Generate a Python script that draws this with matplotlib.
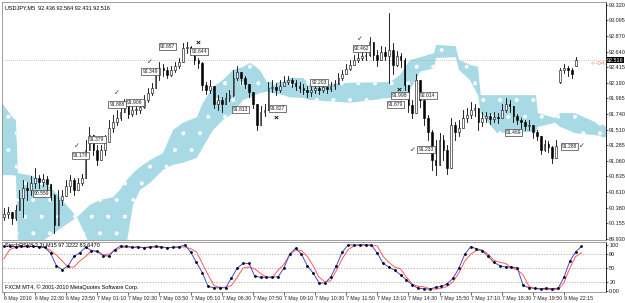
import numpy as np
import matplotlib
matplotlib.use("Agg")
import matplotlib.pyplot as plt
import matplotlib.transforms as mtransforms
from matplotlib.patches import Rectangle

# ----------------------------
# Price bars (one entry per 10 minutes), Friday session then Sunday open
# ----------------------------
close = [90.29, 90.32, 90.23, 90.345, 90.52, 90.66, 90.64, 90.74, 90.81, 90.75,
         90.79, 90.72, 90.56, 90.13, 90.49, 90.55, 90.69, 90.78, 90.64, 90.74,
         90.81, 91.22, 91.43, 91.22, 91.07, 91.22, 91.33, 91.53, 91.62, 91.68,
         91.77, 91.88, 91.74, 91.80, 91.80, 91.84, 91.94, 92.04, 92.11, 92.30,
         92.40, 92.38, 92.30, 92.38, 92.43, 92.49, 92.69, 92.71, 92.64, 92.52,
         92.48, 92.16, 92.09, 92.14, 91.88, 91.94, 91.88, 91.97, 92.01, 92.26,
         92.35, 92.26, 92.17, 92.06, 91.88, 91.58, 91.77, 91.80, 92.11, 92.13,
         92.09, 92.14, 92.20, 92.23, 92.19, 92.14, 92.11, 92.09, 92.06, 92.09,
         92.11, 92.09, 92.13, 92.10, 92.14, 92.17, 92.26, 92.32, 92.39, 92.45,
         92.52, 92.55, 92.58, 92.59, 92.78, 92.59, 92.52, 92.64, 92.58, 92.67,
         92.45, 92.58, 92.52, 92.16, 91.87, 91.75, 92.23, 91.94, 91.68, 91.48,
         91.07, 91.00, 91.36, 91.22, 90.95, 91.58, 91.48, 91.53, 91.68, 91.72,
         91.80, 91.82, 91.62, 91.68, 91.71, 91.66, 91.69, 91.68, 91.80, 91.88,
         91.85, 91.71, 91.65, 91.62, 91.56, 91.58, 91.48, 91.42, 91.22, 91.30,
         91.26, 91.10, 91.27, 92.38, 92.40, 92.38, 92.32, 92.516]
high = [90.38, 90.39, 90.32, 90.42, 90.635, 90.78, 90.75, 90.84, 90.95, 90.85,
        90.87, 90.84, 90.71, 90.58, 90.64, 90.64, 90.78, 90.85, 90.81, 90.81,
        90.87, 91.36, 91.55, 91.43, 91.29, 91.29, 91.43, 91.65, 91.72, 91.80,
        91.85, 91.95, 91.91, 91.87, 91.87, 91.91, 92.01, 92.11, 92.19, 92.40,
        92.49, 92.46, 92.42, 92.43, 92.49, 92.55, 92.77, 92.78, 92.72, 92.64,
        92.55, 92.49, 92.20, 92.23, 92.11, 92.01, 91.98, 92.04, 92.09, 92.38,
        92.43, 92.35, 92.29, 92.16, 92.01, 91.88, 91.85, 91.88, 92.20, 92.23,
        92.19, 92.23, 92.29, 92.29, 92.26, 92.23, 92.20, 92.17, 92.14, 92.17,
        92.19, 92.17, 92.19, 92.17, 92.20, 92.23, 92.33, 92.38, 92.46, 92.52,
        92.59, 92.62, 92.67, 92.68, 92.85, 92.74, 92.67, 92.72, 92.71, 93.20,
        92.77, 92.65, 92.62, 92.55, 92.11, 91.94, 92.32, 92.16, 91.87, 91.72,
        91.51, 91.36, 91.46, 91.43, 91.29, 91.68, 91.62, 91.65, 91.80, 91.82,
        91.91, 91.88, 91.80, 91.77, 91.77, 91.75, 91.77, 91.75, 91.88, 91.97,
        91.94, 91.82, 91.74, 91.68, 91.65, 91.65, 91.55, 91.51, 91.39, 91.36,
        91.35, 91.27, 91.36, 92.40, 92.46, 92.43, 92.40, 92.564]
low = [90.20, 90.23, 90.14, 90.20, 90.38, 90.24, 90.49, 90.56, 90.66, 90.66,
       90.69, 90.64, 90.49, 90.01, 90.32, 90.42, 90.55, 90.61, 90.56, 90.64,
       90.71, 90.81, 91.24, 91.14, 91.00, 91.07, 91.14, 91.36, 91.48, 91.58,
       91.65, 91.77, 91.68, 91.71, 91.74, 91.75, 91.82, 91.91, 92.01, 92.11,
       92.23, 92.29, 92.26, 92.29, 92.35, 92.40, 92.49, 92.62, 92.59, 92.46,
       92.40, 92.09, 92.03, 92.04, 91.82, 91.80, 91.77, 91.88, 91.93, 92.00,
       92.23, 92.17, 92.11, 91.98, 91.82, 91.51, 91.65, 91.71, 91.82, 92.06,
       92.01, 92.06, 92.14, 92.17, 92.13, 92.09, 92.06, 92.03, 91.98, 92.00,
       92.04, 92.03, 92.06, 92.04, 92.07, 92.10, 92.17, 92.23, 92.32, 92.38,
       92.45, 92.49, 92.52, 92.52, 92.58, 92.52, 92.43, 92.55, 92.52, 92.19,
       92.32, 92.43, 92.42, 92.09, 91.77, 91.68, 91.80, 91.84, 91.58, 91.36,
       90.93, 90.85, 91.00, 91.07, 90.87, 91.22, 91.36, 91.42, 91.59, 91.62,
       91.68, 91.71, 91.51, 91.56, 91.62, 91.59, 91.62, 91.61, 91.68, 91.77,
       91.77, 91.62, 91.59, 91.53, 91.51, 91.51, 91.39, 91.36, 91.16, 91.20,
       91.19, 91.03, 91.19, 92.18, 92.33, 92.29, 92.26, 92.431]
# opens that do not follow the previous close (session start, gap, last bar)
open_override = {0: 90.25, 143: 92.20, 147: 92.436}
bid = 92.516

# ----------------------------
# Ichimoku cloud edges (bar position, upper edge, lower edge)
# ----------------------------
cloud_pos = [-0.5, 2.3, 3.1, 3.6, 6.7, 10.1, 14.4, 18.8, 22.1, 24.7, 28.0, 29.8,
             31.6, 33.2, 35.0, 37.6, 40.9, 43.5, 46.0, 49.6, 51.2, 53.8, 56.3,
             58.9, 61.5, 63.3, 65.8, 67.6, 71.8, 73.5, 76.9, 78.7, 89.0, 99.3,
             101.8, 104.4, 107.0, 110.6, 111.1, 116.2, 117.0, 119.8, 121.9,
             122.6, 125.0, 126.8, 136.8, 137.3, 141.7, 143.0, 146.8, 152.0,
             153.2, 154.0, 155.0]
cloud_top = [91.90, 91.68, 91.65, 90.88, 90.85, 90.78, 90.53, 90.24, 90.42, 90.49,
             90.53, 90.635, 90.78, 90.88, 90.97, 91.07, 91.17, 91.505, 91.61,
             91.69, 91.90, 92.13, 92.23, 92.375, 92.42, 92.48, 92.375, 92.20,
             92.20, 92.26, 92.26, 92.16, 92.19, 92.20, 92.30, 92.52, 92.56,
             92.62, 92.74, 92.72, 92.52, 92.45, 92.42, 92.01, 92.01, 92.01,
             92.01, 91.75, 91.68, 91.75, 91.75, 91.62, 91.56, 91.59, 91.53]
cloud_bot = [90.85, 90.85, 90.84, 89.84, 89.84, 89.90, 90.07, 90.24, 89.84, 89.84,
             89.84, 89.84, 89.87, 90.42, 90.635, 90.74, 90.925, 91.00, 91.03,
             91.10, 91.26, 91.505, 91.65, 91.75, 91.94, 91.98, 92.04, 92.06,
             92.01, 91.98, 91.97, 91.94, 91.90, 91.97, 91.97, 92.085, 92.35,
             92.40, 92.55, 92.56, 92.375, 92.23, 92.01, 91.75, 91.58, 91.46,
             91.48, 91.55, 91.61, 91.55, 91.46, 91.43, 91.42, 91.40, 91.40]

# ----------------------------
# Price labels, ticks and crosses drawn on the chart
# ----------------------------
label_pos = [42.1, 50.2, 37.6, 29.1, 33.7, 23.9, 19.6, 9.7, 60.8, 70.3, 81.0,
             91.9, 101.8, 100.7, 109.0, 108.5, 131.0, 145.4]
label_price = [92.71, 92.65, 92.35, 91.875, 91.90, 91.37, 91.14, 90.58, 91.80,
               91.82, 92.19, 92.68, 92.00, 91.87, 92.01, 91.22, 91.47, 91.27]
label_text = ["92.657", "92.644", "92.349", "91.888", "91.906", "91.379", "91.178",
              "90.559", "91.813", "91.827", "92.203", "92.462", "91.998", "91.879",
              "92.014", "91.233", "91.469", "91.288"]
check_pos = [18.8, 29.1, 37.6, 91.5, 105.2, 148.6]
check_price = [91.27, 92.04, 92.49, 92.82, 91.22, 91.27]
cross_pos = [49.9, 70.0, 101.6]
cross_price = [92.77, 91.68, 92.09]

# ----------------------------
# Stochastic (M15 values, one every 1.5 bars)
# ----------------------------
stoch_main = [97, 97, 96, 98, 97, 97, 96, 95, 82, 55,
              46, 55, 75, 83, 95, 88, 86, 77, 76, 90,
              98, 97, 95, 96, 94, 95, 97, 96, 94, 95,
              96, 100, 85, 62, 40, 10, 7, 7, 7, 28,
              50, 60, 60, 32, 30, 30, 30, 31, 50, 80,
              93, 80, 55, 39, 18, 17, 30, 55, 85, 100,
              100, 100, 100, 100, 82, 60, 52, 45, 35, 24,
              13, 6, 5, 4, 8, 10, 16, 28, 50, 80,
              96, 92, 88, 75, 62, 55, 52, 52, 50, 12,
              7, 6, 5, 6, 5, 6, 30, 65, 85, 97]
stoch_signal = [70, 90, 95, 96, 96, 97, 96, 95, 88, 78,
                65, 52, 52, 65, 75, 88, 86, 79, 80, 88,
                94, 96, 95, 94, 95, 96, 95, 95, 94, 95,
                95, 96, 92, 85, 60, 35, 12, 8, 8, 12,
                30, 50, 52, 48, 38, 30, 30, 45, 58, 80,
                89, 88, 75, 55, 30, 20, 22, 45, 70, 90,
                98, 100, 100, 99, 98, 75, 62, 52, 48, 30,
                15, 10, 9, 5, 4, 6, 10, 20, 40, 65,
                80, 88, 89, 80, 67, 62, 60, 50, 46, 35,
                10, 5, 4, 3, 3, 3, 18, 50, 75, 83]
stoch_levels = [20, 50, 80]

# ----------------------------
# Axis texts
# ----------------------------
price_ticks = [93.320, 93.095, 92.870, 92.640, 92.415, 92.190, 91.965, 91.740,
               91.510, 91.285, 91.060, 90.835, 90.610, 90.380, 90.155, 89.930]
time_labels = ["6 May 2010", "6 May 22:30", "6 May 23:50", "7 May 01:10",
               "7 May 02:30", "7 May 03:50", "7 May 05:10", "7 May 06:30",
               "7 May 07:50", "7 May 09:10", "7 May 10:30", "7 May 11:50",
               "7 May 13:10", "7 May 14:30", "7 May 15:50", "7 May 17:10",
               "7 May 18:30", "7 May 19:50", "9 May 22:15"]

plt.rcParams["font.family"] = ["Liberation Sans", "DejaVu Sans"]
plt.rcParams["hatch.linewidth"] = 0.45

W, H = 625, 303
fig = plt.figure(figsize=(W / 100, H / 100), dpi=100)
fig.patch.set_facecolor("white")
ax = fig.add_axes([2 / W, 1 - 240 / H, 604 / W, 238 / H])
sub = fig.add_axes([2 / W, 1 - 292 / H, 604 / W, 50 / H], sharex=ax)

FS = 4.0
xlim = (-0.49, 154.8)

# cloud
ax.fill_between(cloud_pos, cloud_bot, cloud_top, facecolor="#a7dae5",
                edgecolor="white", hatch=".", linewidth=0, zorder=1)

# candles
n = len(close)
opens = [open_override.get(i, close[i - 1] if i > 0 else close[0]) for i in range(n)]
for i in range(n):
    o, c = opens[i], close[i]
    hi = max(high[i], o, c)
    lo = min(low[i], o, c)
    ax.plot([i, i], [lo, hi], color="black", lw=0.6, zorder=3)
    bottom = min(o, c)
    h = max(abs(c - o), 0.004)
    face = "black" if c < o else "white"
    ax.add_patch(Rectangle((i - 0.22, bottom), 0.44, h, facecolor=face,
                           edgecolor="black", lw=0.4, zorder=4))

# bid line
ax.axhline(bid, color="#b0b0b0", lw=0.6, ls=(0, (1, 1.5)), zorder=2)

# chart labels
for x, p, t in zip(label_pos, label_price, label_text):
    ax.text(x, p, t, fontsize=3.6, ha="center", va="center", color="#202020",
            zorder=6, bbox=dict(boxstyle="square,pad=0.2", fc="white",
                                ec="#404040", lw=0.5))
for x, p in zip(check_pos, check_price):
    ax.text(x, p, "\u2713", fontsize=5, ha="center", va="center",
            color="#203060", zorder=6, family="DejaVu Sans")
for x, p in zip(cross_pos, cross_price):
    ax.text(x, p, "\u00d7", fontsize=6, ha="center", va="center",
            color="black", fontweight="bold", zorder=6)

ax.set_xlim(*xlim)
ax.set_ylim(89.91, 93.361)
ax.yaxis.tick_right()
ax.set_yticks(price_ticks)
ax.set_yticklabels([f"{p:.3f}" for p in price_ticks])
ax.tick_params(axis="y", labelsize=FS, length=1.5, width=0.5, pad=0.8,
               colors="#202020")
ax.tick_params(axis="x", bottom=False, labelbottom=False)
for s in ["left", "top", "bottom"]:
    ax.spines[s].set_color("#909090")
    ax.spines[s].set_linewidth(0.6)
ax.spines["right"].set_color("black")
ax.spines["right"].set_linewidth(0.6)

ax.text(0.005, 0.985, "USDJPY,M5  92.436 92.564 92.431 92.516",
        transform=ax.transAxes, fontsize=FS, ha="left", va="top", color="black")

trans = mtransforms.blended_transform_factory(ax.transAxes, ax.transData)
ax.text(1.002, bid, "92.516", transform=trans, fontsize=FS, ha="left",
        va="center", color="white", zorder=7, clip_on=False,
        bbox=dict(boxstyle="square,pad=0.1", fc="black", ec="black", lw=0))
ax.text(150.8, 92.47, "<--04:", fontsize=FS + 0.3, ha="left", va="center",
        color="#f08050", zorder=7)

# stochastic pane
k = np.arange(len(stoch_main)) * 1.5
sub.plot(k, stoch_signal, color="#ff5a5a", lw=0.7, zorder=3)
sub.plot(k, stoch_main, color="#4848d8", lw=0.7, zorder=4)
sub.plot(k, stoch_main, ls="none", marker="o", ms=1.0, color="black", zorder=5)
for lv in stoch_levels:
    sub.axhline(lv, color="#a0a0a0", lw=0.5, ls=(0, (2, 2)), zorder=1)
sub.set_ylim(-2.2, 106.5)
sub.yaxis.tick_right()
sub.set_yticks([100, 80, 50, 20, 0])
sub.set_yticklabels(["100", "80", "50", "20", "0.00"])
sub.tick_params(axis="y", labelsize=FS, length=1.5, width=0.5, pad=0.8,
                colors="#202020")
sub.set_xticks(np.arange(len(time_labels)) * 8)
sub.set_xticklabels(time_labels, ha="left")
sub.tick_params(axis="x", labelsize=3.8, length=2, width=0.5, pad=1.0,
                colors="#202020")
for s in ["left", "top", "bottom"]:
    sub.spines[s].set_color("#909090")
    sub.spines[s].set_linewidth(0.6)
sub.spines["right"].set_color("black")
sub.spines["right"].set_linewidth(0.6)
sub.set_xlim(*xlim)

sub.text(0.005, 0.97, "StochRSI(8,3,3) M15 97.3222 83.6470",
         transform=sub.transAxes, fontsize=FS, ha="left", va="top", color="black",
         zorder=6)
sub.text(0.005, 0.04, "FXCM MT4, \u00a9 2001-2010 MetaQuotes Software Corp.",
         transform=sub.transAxes, fontsize=FS, ha="left", va="bottom",
         color="black")

fig.savefig("out.png", dpi=100, facecolor="white")
